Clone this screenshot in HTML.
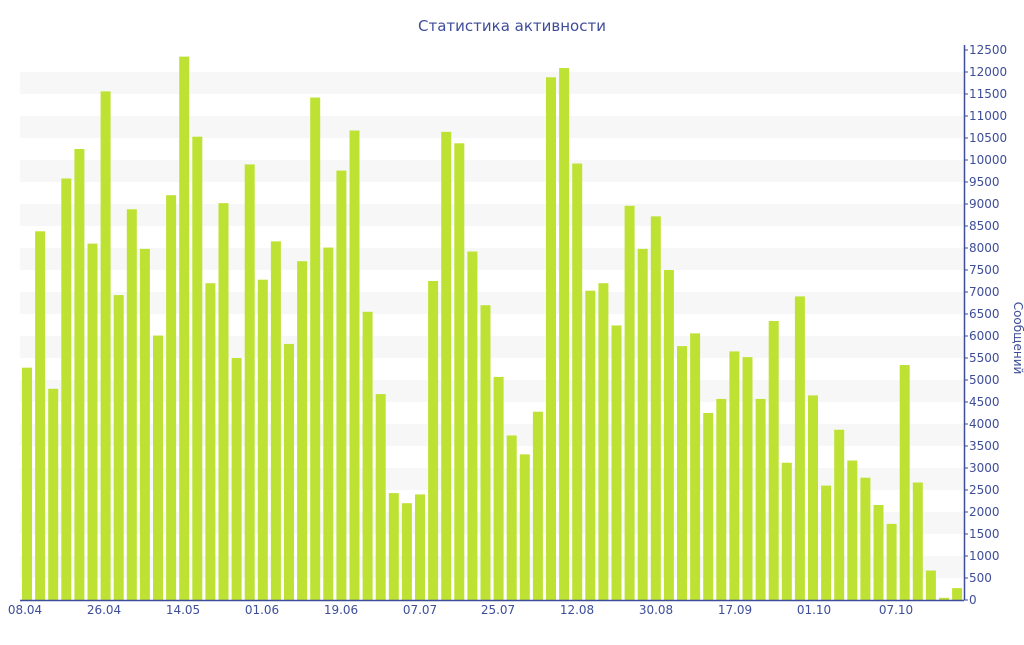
<!DOCTYPE html>
<html><head><meta charset="utf-8"><style>
body{margin:0;background:#fff;}
svg text{font-family:"DejaVu Sans","Liberation Sans",sans-serif;fill:#3d4d99;}
</style></head><body>
<svg id="s" width="1024" height="640" xmlns="http://www.w3.org/2000/svg">
<g id="bands"></g><g id="bars"></g>
<line x1="20" y1="600.5" x2="964" y2="600.5" stroke="#3d4d99" stroke-width="1.5"/>
<line x1="964.5" y1="45" x2="964.5" y2="600" stroke="#3d4d99" stroke-width="1.5"/>
<g id="ticks"></g>
<text x="512" y="31" text-anchor="middle" font-size="15">Статистика активности</text>
<text transform="translate(1014,338) rotate(90)" text-anchor="middle" font-size="12">Сообщений</text>
<g font-size="12" text-anchor="middle">
<text x="25" y="614">08.04</text><text x="104" y="614">26.04</text><text x="183" y="614">14.05</text><text x="262" y="614">01.06</text><text x="341" y="614">19.06</text><text x="420" y="614">07.07</text><text x="498" y="614">25.07</text><text x="577" y="614">12.08</text><text x="656" y="614">30.08</text><text x="735" y="614">17.09</text><text x="814" y="614">01.10</text><text x="896" y="614">07.10</text>
</g>
<g font-size="12">
<text x="969" y="604">0</text><text x="969" y="582">500</text><text x="969" y="560">1000</text><text x="969" y="538">1500</text><text x="969" y="516">2000</text><text x="969" y="494">2500</text><text x="969" y="472">3000</text><text x="969" y="450">3500</text><text x="969" y="428">4000</text><text x="969" y="406">4500</text><text x="969" y="384">5000</text><text x="969" y="362">5500</text><text x="969" y="340">6000</text><text x="969" y="318">6500</text><text x="969" y="296">7000</text><text x="969" y="274">7500</text><text x="969" y="252">8000</text><text x="969" y="230">8500</text><text x="969" y="208">9000</text><text x="969" y="186">9500</text><text x="969" y="164">10000</text><text x="969" y="142">10500</text><text x="969" y="120">11000</text><text x="969" y="98">11500</text><text x="969" y="76">12000</text><text x="969" y="54">12500</text>
</g>
</svg>
<script>
var v=[5280,8380,4800,9580,10250,8100,11560,6930,8880,7980,6010,9200,12350,10530,7200,9020,5500,9900,7280,8150,5820,7700,11420,8010,9760,10670,6550,4680,2430,2200,2400,7250,10640,10380,7920,6700,5070,3740,3310,4280,11880,12090,9920,7030,7200,6240,8960,7980,8720,7500,5770,6060,4250,4570,5650,5520,4570,6340,3120,6900,4650,2600,3870,3170,2780,2160,1730,5340,2670,670,50,270];
var NS="http://www.w3.org/2000/svg";
function el(p,t,a){var e=document.createElementNS(NS,t);for(var k in a)e.setAttribute(k,a[k]);document.getElementById(p).appendChild(e);}
for(var i=500;i<12500;i+=1000){el("bands","rect",{x:20,y:600-(i+500)*0.044,width:944,height:22,fill:"#f7f7f7"});}
for(var i=0;i<v.length;i++){var h=v[i]*0.044;el("bars","rect",{x:22+i*13.1,y:600-h,width:10,height:h,fill:"#bee234"});}
for(var i=0;i<=25;i++){el("ticks","line",{x1:964,x2:968,y1:600-i*22,y2:600-i*22,stroke:"#3d4d99"});}
</script>
</body></html>
